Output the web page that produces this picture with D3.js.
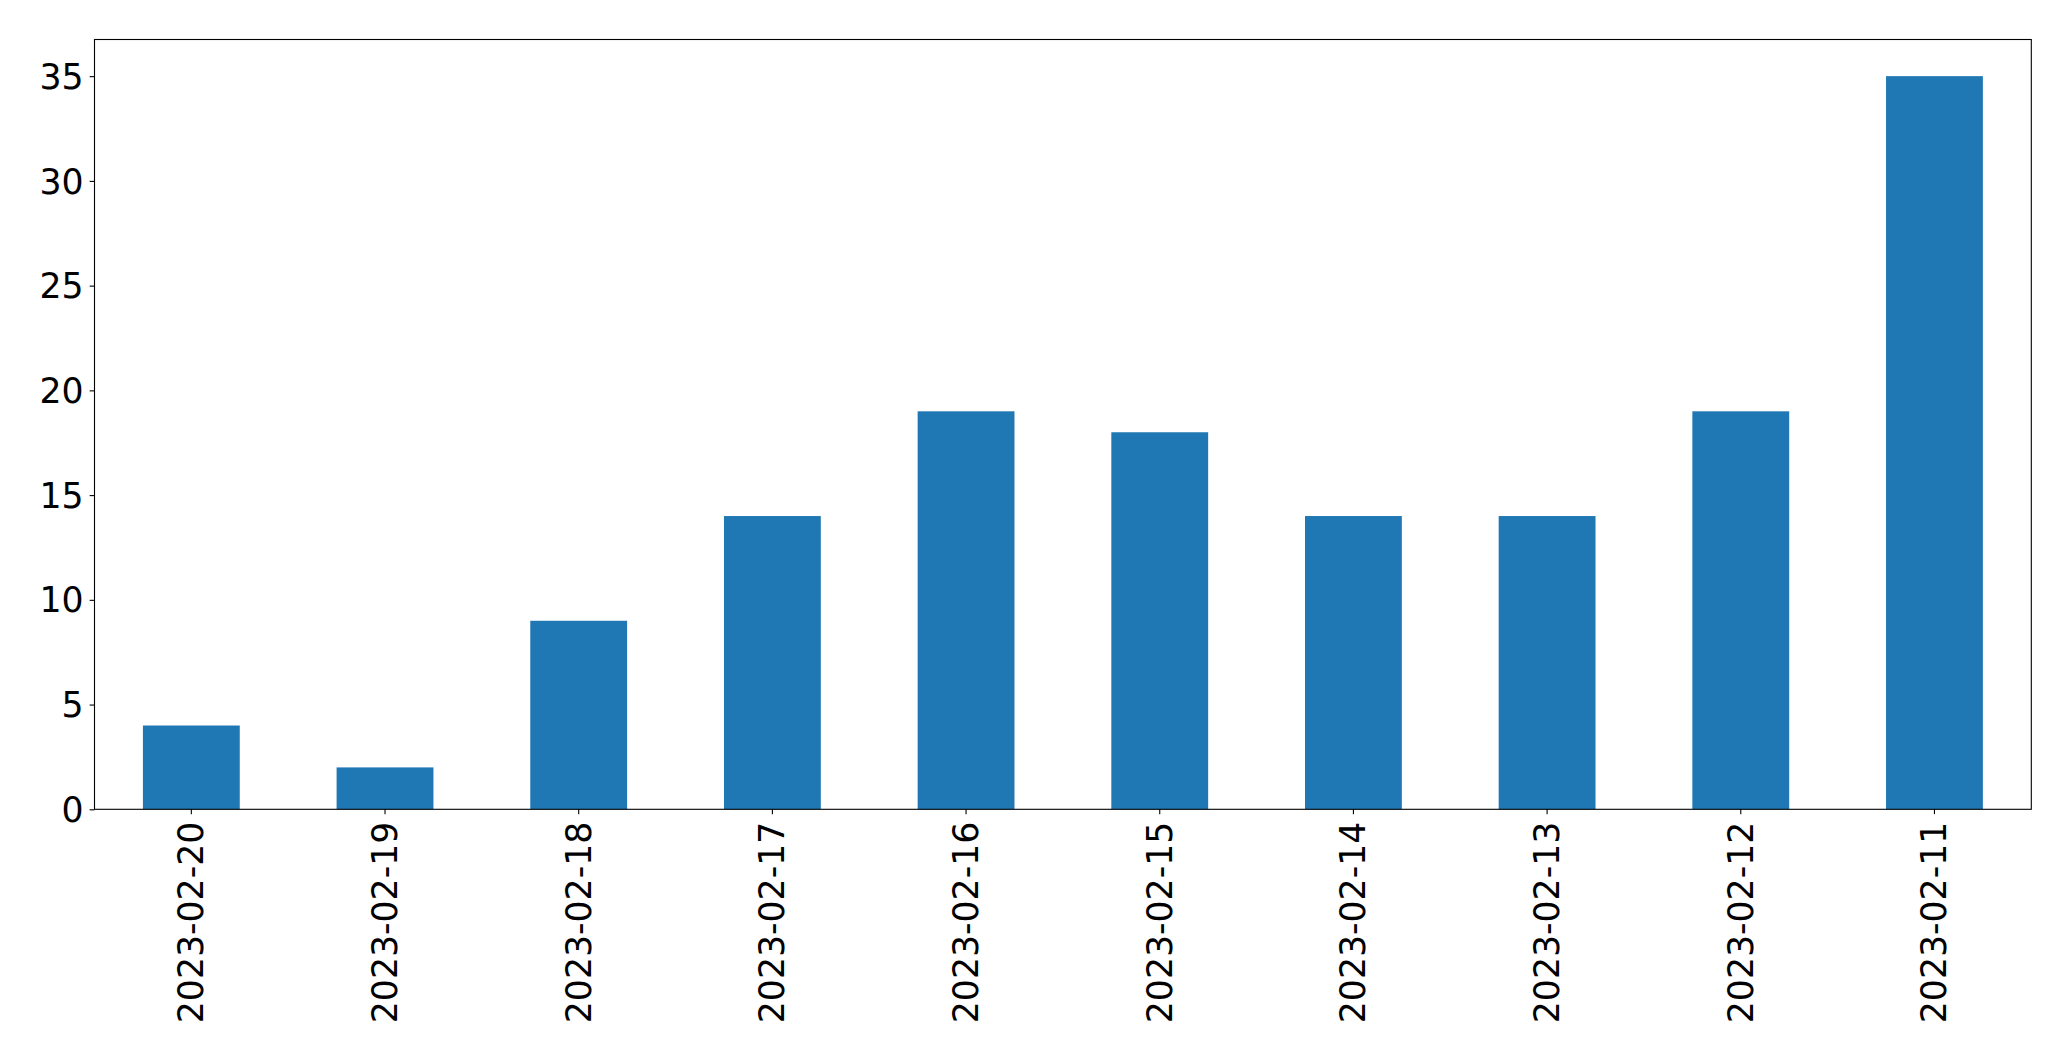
<!DOCTYPE html>
<html>
<head>
<meta charset="utf-8">
<script src="https://cdn.jsdelivr.net/npm/d3@7"></script>
<style>
  html, body { margin: 0; padding: 0; background: #fff; }
  svg { display: block; }
  text { font-family: "DejaVu Sans", sans-serif; fill: #000; }
</style>
</head>
<body>
<svg id="chart" width="2071" height="1061"></svg>
<script>
const categories = ["2023-02-20","2023-02-19","2023-02-18","2023-02-17","2023-02-16","2023-02-15","2023-02-14","2023-02-13","2023-02-12","2023-02-11"];
const values = [4, 2, 9, 14, 19, 18, 14, 14, 19, 35];
const yTicks = [0, 5, 10, 15, 20, 25, 30, 35];

const svg = d3.select("#chart");
const plotLeft = 94.5, plotRight = 2031.3, plotTop = 39.5, plotBottom = 809.3;
const fontSize = "34.7px";
const tickLen = 4.86;

const x = d3.scaleBand().domain(categories).range([plotLeft, plotRight]).paddingInner(0.5).paddingOuter(0.25);
const y = d3.scaleLinear().domain([0, 35 * 1.05]).range([plotBottom, plotTop]);

svg.append("g").selectAll("rect").data(values).join("rect")
  .attr("x", (d, i) => x(categories[i]))
  .attr("width", x.bandwidth())
  .attr("y", d => y(d))
  .attr("height", d => y(0) - y(d))
  .attr("fill", "#1f77b4");

const yAxis = svg.append("g").attr("transform", `translate(${plotLeft},0)`)
  .call(d3.axisLeft(y).tickValues(yTicks).tickSize(tickLen).tickPadding(6).tickFormat(d3.format("d")));
yAxis.select(".domain").remove();
yAxis.selectAll("line").attr("stroke", "#000").attr("stroke-width", 1.1);
yAxis.selectAll("text").style("font-size", fontSize).attr("font-family", "DejaVu Sans").attr("dy", "0.35em");

const xAxis = svg.append("g").attr("transform", `translate(0,${plotBottom})`)
  .call(d3.axisBottom(x).tickSize(tickLen).tickPadding(0));
xAxis.select(".domain").remove();
xAxis.selectAll("line").attr("stroke", "#000").attr("stroke-width", 1.1);
xAxis.selectAll("text")
  .style("font-size", fontSize).attr("font-family", "DejaVu Sans")
  .attr("text-anchor", "end")
  .attr("dy", null)
  .attr("y", 0)
  .attr("dominant-baseline", "central")
  .attr("transform", `translate(0,${tickLen + 7.5}) rotate(-90)`);

svg.append("rect")
  .attr("x", plotLeft).attr("y", plotTop)
  .attr("width", plotRight - plotLeft).attr("height", plotBottom - plotTop)
  .attr("fill", "none").attr("stroke", "#000").attr("stroke-width", 1.1);
</script>
</body>
</html>
